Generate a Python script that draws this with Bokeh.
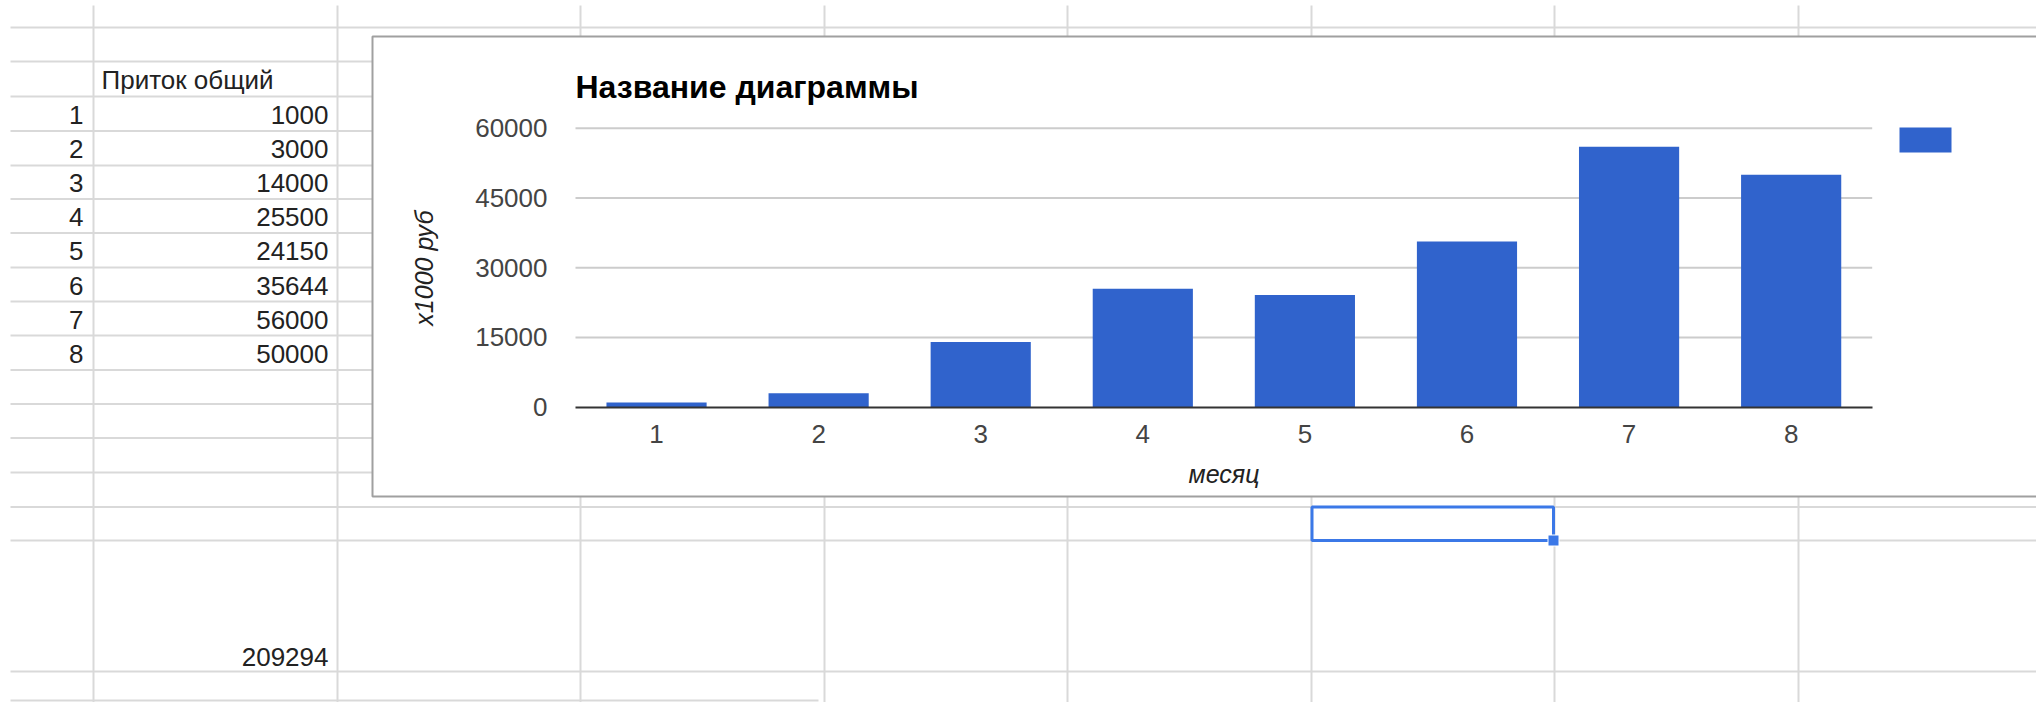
from bokeh.plotting import figure
from bokeh.models import Range1d, LinearAxis, FixedTicker, ColumnDataSource
from bokeh.core.properties import value
from bokeh.embed import file_html
from bokeh.resources import INLINE

# ---------------- data ----------------
MONTHS = [1, 2, 3, 4, 5, 6, 7, 8]
INFLOW = [1000, 3000, 14000, 25500, 24150, 35644, 56000, 50000]
TOTAL = 209294
HEADER = "Приток общий"
TITLE = "Название диаграммы"
Y_LABEL = "x1000 руб"
X_LABEL = "месяц"
Y_TICKS = [0, 15000, 30000, 45000, 60000]

# ---------------- page geometry (page pixels) ----------------
W, H = 2036, 702
FONT = "Liberation Sans"
BLUE = "#3063cc"
SHEET_LINE = "#d9d9d9"
TXT = "#222222"

ROW_LINES = [27, 61, 96, 130.5, 165, 198.5, 232.5, 267, 301, 335, 369.5,
             403.5, 437.5, 472, 506.5, 540, 671]
COL_LINES = [93, 337, 580, 824, 1067, 1311, 1554, 1798]
CH_L, CH_T, CH_B, CH_R = 372, 36, 496, 2060     # chart box
PLOT_L, PLOT_R = 575, 1871.7                      # chart plot area
Y0_PX, YMAX_PX = 406.7, 127.7                     # pixel of 0 and 60000

p = figure(width=W, height=H,
           x_range=Range1d(0, W), y_range=Range1d(H, 0),
           x_axis_type=None, y_axis_type=None,
           output_backend="svg", toolbar_location=None,
           min_border=0, outline_line_color=None,
           background_fill_color="white", border_fill_color="white")

# ---------------- spreadsheet grid ----------------
sx0, sx1, sy0, sy1 = [], [], [], []
for y in ROW_LINES:
    sx0.append(10)
    sx1.append(CH_L if CH_T < y < CH_B else 2060)
    sy0.append(y)
    sy1.append(y)
for x in COL_LINES:
    if x < CH_L:
        sx0.append(x); sx1.append(x); sy0.append(5); sy1.append(710)
    else:
        sx0 += [x, x]; sx1 += [x, x]; sy0 += [5, CH_B]; sy1 += [CH_T, 710]
sx0.append(10); sx1.append(818); sy0.append(700); sy1.append(700)
p.segment(x0=sx0, x1=sx1, y0=sy0, y1=sy1, line_color=SHEET_LINE, line_width=2)

# table text
row_c = [(ROW_LINES[i] + ROW_LINES[i + 1]) / 2 + 1 for i in range(len(ROW_LINES) - 1)]
p.text(x=[101], y=[row_c[1]], text=[HEADER], text_font=value(FONT), text_font_size="26px",
       text_color=TXT, text_align="left", text_baseline="middle")
p.text(x=[83] * len(MONTHS), y=row_c[2:2 + len(MONTHS)], text=[str(m) for m in MONTHS],
       text_font=value(FONT), text_font_size="26px", text_color=TXT,
       text_align="right", text_baseline="middle")
p.text(x=[328] * len(INFLOW), y=row_c[2:2 + len(INFLOW)], text=[str(v) for v in INFLOW],
       text_font=value(FONT), text_font_size="26px", text_color=TXT,
       text_align="right", text_baseline="middle")
p.text(x=[328], y=[ROW_LINES[-1] - 15], text=[str(TOTAL)], text_font=value(FONT),
       text_font_size="26px", text_color=TXT, text_align="right", text_baseline="middle")

# selection box
p.quad(left=[1311.5], right=[1553], top=[506.5], bottom=[540], fill_color=None,
       line_color="#3b78e7", line_width=3)
p.quad(left=[1547.5], right=[1558.5], top=[534.5], bottom=[545.5], fill_color="#3b78e7",
       line_color="white", line_width=1)

# ---------------- chart box ----------------
p.quad(left=[CH_L], right=[CH_R], top=[CH_T], bottom=[CH_B], fill_color="white",
       line_color="#a0a0a0", line_width=2)

# chart scales (extra ranges mapping chart values onto the page)
n = len(MONTHS)
def ux(px):
    return 0.5 + (px - PLOT_L) * n / (PLOT_R - PLOT_L)
ymax = Y_TICKS[-1]
def vy(py):
    return (Y0_PX - py) * ymax / (Y0_PX - YMAX_PX)
p.extra_x_ranges = {"cx": Range1d(ux(0), ux(W))}
p.extra_y_ranges = {"cy": Range1d(vy(H), vy(0))}

# gridlines
gt = Y_TICKS[1:]
p.segment(x0=[0.5] * len(gt), x1=[n + 0.5] * len(gt), y0=gt, y1=gt,
          x_range_name="cx", y_range_name="cy", line_color="#cccccc", line_width=2)

# bars
src = ColumnDataSource(dict(month=MONTHS, inflow=INFLOW))
p.vbar(x="month", top="inflow", bottom=0, width=0.618, source=src,
       x_range_name="cx", y_range_name="cy", fill_color=BLUE, line_color=None)

# y axis
yax = LinearAxis(y_range_name="cy", fixed_location=PLOT_L,
                 ticker=FixedTicker(ticks=Y_TICKS), bounds=(0, ymax),
                 axis_label=Y_LABEL)
yax.axis_line_color = None
yax.major_tick_line_color = None
yax.minor_tick_line_color = None
yax.major_label_standoff = 22
yax.major_label_text_font = FONT
yax.major_label_text_font_size = "26px"
yax.major_label_text_color = "#444444"
yax.axis_label_text_font = FONT
yax.axis_label_text_font_size = "25px"
yax.axis_label_text_font_style = "italic"
yax.axis_label_text_color = "#222222"
yax.axis_label_standoff = 34
p.add_layout(yax, "left")

# x axis
xax = LinearAxis(x_range_name="cx", y_range_name="cy", fixed_location=0,
                 ticker=FixedTicker(ticks=MONTHS), bounds=(0.5, n + 0.5),
                 axis_label=X_LABEL)
xax.axis_line_color = "#333333"
xax.axis_line_width = 2
xax.major_tick_line_color = None
xax.minor_tick_line_color = None
xax.major_label_standoff = 12
xax.major_label_text_font = FONT
xax.major_label_text_font_size = "26px"
xax.major_label_text_color = "#444444"
xax.axis_label_text_font = FONT
xax.axis_label_text_font_size = "25px"
xax.axis_label_text_font_style = "italic"
xax.axis_label_text_color = "#222222"
xax.axis_label_standoff = 13
p.add_layout(xax, "below")

# title
p.text(x=[PLOT_L], y=[86], text=[TITLE], text_font=value(FONT), text_font_size="32px",
       text_font_style="bold", text_color="#000000", text_align="left", text_baseline="middle")

# legend swatch
p.quad(left=[1899], right=[1951], top=[127], bottom=[152], fill_color=BLUE, line_color=None)

open("out.html", "w").write(file_html(p, INLINE))
